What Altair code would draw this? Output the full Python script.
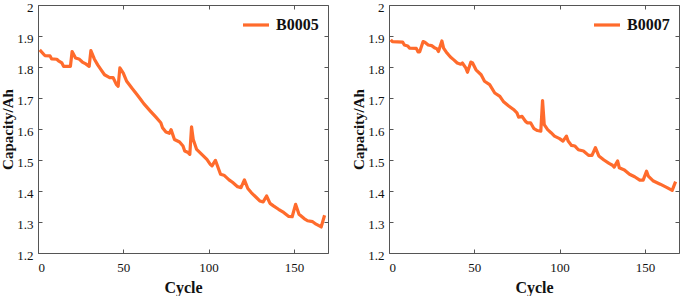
import altair as alt
import pandas as pd

# ---- data ----
CYC_B0005 = [1, 4, 7, 8, 11, 12, 14, 15, 19, 20, 22, 24, 26, 28, 30, 31, 33, 35, 37, 39,
             42, 44, 46, 47, 48, 50, 52, 55, 58, 60, 62, 66, 69, 72, 73, 75, 77, 78, 80, 83,
             85, 86, 88, 89, 90, 91, 93, 96, 99, 101, 102, 104, 107, 109, 112, 114, 117, 119, 121, 123,
             125, 128, 130, 132, 134, 136, 138, 141, 144, 147, 149, 151, 153, 156, 158, 161, 163, 166, 168]
CAP_B0005 = [1.855, 1.837, 1.836, 1.826, 1.825, 1.820, 1.813, 1.802, 1.802, 1.850, 1.829, 1.826, 1.816, 1.810, 1.802, 1.853, 1.826, 1.807, 1.791, 1.775,
             1.766, 1.766, 1.743, 1.738, 1.797, 1.780, 1.754, 1.732, 1.711, 1.697, 1.682, 1.657, 1.639, 1.620, 1.604, 1.590, 1.586, 1.598, 1.566, 1.558,
             1.545, 1.529, 1.524, 1.518, 1.607, 1.566, 1.534, 1.518, 1.502, 1.486, 1.481, 1.499, 1.454, 1.451, 1.436, 1.428, 1.414, 1.411, 1.436, 1.408,
             1.395, 1.379, 1.368, 1.365, 1.384, 1.360, 1.352, 1.341, 1.331, 1.318, 1.317, 1.357, 1.325, 1.311, 1.304, 1.301, 1.293, 1.284, 1.322]

CYC_B0007 = [1, 2, 8, 9, 11, 12, 16, 17, 18, 20, 21, 23, 25, 27, 28, 29, 31, 32, 34, 36,
             38, 40, 42, 43, 45, 46, 48, 49, 51, 54, 56, 59, 62, 65, 67, 70, 73, 75, 76, 78,
             80, 81, 83, 85, 87, 89, 90, 91, 93, 95, 97, 100, 102, 104, 105, 107, 109, 111, 114, 117,
             119, 121, 123, 126, 129, 131, 132, 134, 135, 138, 141, 144, 147, 149, 151, 152, 155, 159, 163, 166, 168]
CAP_B0007 = [1.888, 1.882, 1.880, 1.871, 1.868, 1.861, 1.860, 1.849, 1.849, 1.882, 1.880, 1.871, 1.869, 1.861, 1.859, 1.850, 1.884, 1.861, 1.845, 1.832,
             1.823, 1.813, 1.809, 1.813, 1.797, 1.783, 1.816, 1.813, 1.791, 1.775, 1.754, 1.743, 1.716, 1.705, 1.689, 1.675, 1.663, 1.652, 1.638, 1.641,
             1.625, 1.620, 1.620, 1.601, 1.595, 1.593, 1.692, 1.614, 1.598, 1.588, 1.577, 1.569, 1.561, 1.577, 1.561, 1.547, 1.545, 1.533, 1.529, 1.515,
             1.515, 1.540, 1.513, 1.500, 1.489, 1.483, 1.477, 1.497, 1.475, 1.468, 1.454, 1.446, 1.435, 1.435, 1.464, 1.448, 1.432, 1.422, 1.411, 1.402, 1.430]

X_TICKS = [0, 50, 100, 150]
Y_TICKS = [1.2, 1.3, 1.4, 1.5, 1.6, 1.7, 1.8, 1.9, 2.0]
X_DOMAIN = [0, 170]
Y_DOMAIN = [1.2, 2.0]

ORANGE = "#FF6B2C"
FONT = "Liberation Serif"
AXC = "#555555"
TXT = "#111111"


def panel(name, cyc, cap):
    df = pd.DataFrame({"Cycle": cyc, "Capacity": cap, "Battery": name})
    xs = alt.Scale(domain=X_DOMAIN, nice=False, zero=False)
    ys = alt.Scale(domain=Y_DOMAIN, nice=False, zero=False)
    base = alt.Chart(df)

    line = base.mark_line(strokeWidth=3.2, strokeJoin="round").encode(
        x=alt.X("Cycle:Q", scale=xs,
                axis=alt.Axis(orient="bottom", title="Cycle", values=X_TICKS, ticks=False, domain=False,
                              grid=False, labelPadding=8, titlePadding=5,
                              labelFont=FONT, labelFontSize=13, labelColor=TXT,
                              titleFont=FONT, titleFontSize=16, titleFontWeight="bold", titleColor=TXT)),
        y=alt.Y("Capacity:Q", scale=ys,
                axis=alt.Axis(orient="left", title="Capacity/Ah", values=Y_TICKS, format="~g", ticks=False,
                              domain=False, grid=False, labelPadding=5, titlePadding=1, labelOffset=2,
                              labelFont=FONT, labelFontSize=13, labelColor=TXT,
                              titleFont=FONT, titleFontSize=15, titleFontWeight="bold", titleColor=TXT)),
        color=alt.Color("Battery:N", scale=alt.Scale(range=[ORANGE]),
                        legend=alt.Legend(title=None, orient="none", legendX=203, legendY=5, padding=0,
                                          symbolType="stroke", symbolSize=676, symbolStrokeWidth=3.2,
                                          labelOffset=5, labelFont=FONT, labelFontSize=16,
                                          labelFontWeight="bold", labelColor=TXT)),
    )

    tick_axis = dict(title=None, labels=False, domain=False, grid=False, ticks=True,
                     tickSize=4, offset=-4, tickColor=AXC, tickWidth=1)

    ticks_bl = base.mark_line(opacity=0).encode(
        x=alt.X("Cycle:Q", scale=xs, axis=alt.Axis(orient="bottom", values=X_TICKS, **tick_axis)),
        y=alt.Y("Capacity:Q", scale=ys, axis=alt.Axis(orient="left", values=Y_TICKS, **tick_axis)),
    )
    ticks_tr = base.mark_line(opacity=0).encode(
        x=alt.X("Cycle:Q", scale=xs, axis=alt.Axis(orient="top", values=X_TICKS, **tick_axis)),
        y=alt.Y("Capacity:Q", scale=ys, axis=alt.Axis(orient="right", values=Y_TICKS, **tick_axis)),
    )

    return alt.layer(line, ticks_bl, ticks_tr).resolve_axis(
        x="independent", y="independent"
    ).properties(width=290, height=248)


chart = alt.hconcat(
    panel("B0005", CYC_B0005, CAP_B0005),
    panel("B0007", CYC_B0007, CAP_B0007),
    spacing=22,
).resolve_scale(color="independent").properties(
    padding={"left": 0, "top": 0, "right": 1, "bottom": 0}
).configure_view(stroke=AXC, strokeWidth=1)

chart.save("out.html", embed_options={"renderer": "svg", "actions": False})
